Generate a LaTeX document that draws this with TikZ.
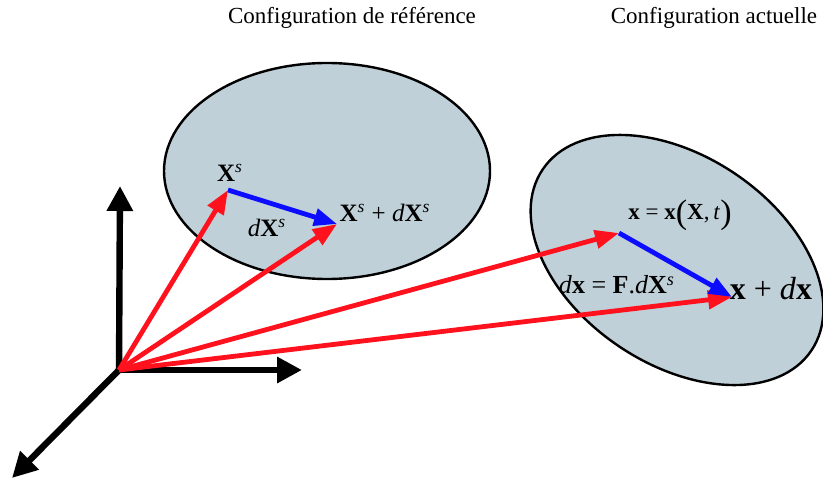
\documentclass[tikz,border=0pt]{standalone}
\usepackage{fontspec}
\setmainfont{Liberation Serif}
\usepackage{xcolor}
\definecolor{bodyfill}{RGB}{192,208,216}
\definecolor{vecred}{RGB}{255,18,30}
\definecolor{vecblue}{RGB}{12,12,255}
\usetikzlibrary{arrows.meta}
\usetikzlibrary{positioning}

\newcommand{\bX}{\textbf{X}\textsuperscript{\textit{s}}}
\newcommand{\dd}{\textit{d}}
\newcommand{\bigpar}[1]{\raisebox{-2pt}{\fontsize{17}{17}\selectfont #1}}

\tikzset{
  axis/.style={line width=3.2pt, -{Triangle[length=12.5pt,width=12.5pt]}},
  posvec/.style={line width=2.4pt, color=vecred, -{Triangle[length=12pt,width=9pt]}},
  dispvec/.style={line width=2.4pt, color=vecblue, -{Triangle[length=11.5pt,width=8.5pt]}},
  body/.style={fill=bodyfill, draw=black, line width=1.2pt},
  lbl/.style={inner sep=0pt, font=\fontsize{12.5}{14}\selectfont},
  title/.style={inner sep=0pt, font=\fontsize{11.5}{13}\selectfont},
}

\begin{document}
\begin{tikzpicture}[x=0.5pt, y=-0.5pt]
    \useasboundingbox (0,0) rectangle (823,481);

    % reference and current configurations
    \filldraw[body] (327,171) ellipse [x radius=163, y radius=108];
    \filldraw[body, rotate around={-34:(677,260)}] (677,260) ellipse [x radius=162, y radius=104];

    \node[title] (tref) at (352,18) {Configuration de référence};
    \node[title] (tcur) at (714,18) {Configuration actuelle};

    % frame
    \coordinate (O)  at (119,370);
    \coordinate (e1) at (302,370);
    \coordinate (e2) at (120,186);
    \coordinate (e3) at (12,478);
    \draw[axis] (O) -- (e1);
    \draw[axis] (O) -- (e2);
    \draw[axis] (O) -- (e3);

    % material points
    \coordinate (P)  at (228,190);
    \coordinate (Q)  at (337,224);
    \coordinate (p)  at (619,233);
    \coordinate (q)  at (732,297);

    \draw[posvec] (O) -- (P);
    \draw[posvec] (O) -- (Q);
    \draw[posvec] (O) -- (p);
    \draw[posvec] (O) -- (q);
    \draw[dispvec] (P) -- (Q);
    \draw[dispvec] (p) -- (q);

    \node[lbl] (lP)  at (230,173) {\bX};
    \node[lbl] (ldP) at (267,228) {\dd\bX};
    \node[lbl] (lQ)  at (385,213) {\bX\ + \dd\bX};
    \node[lbl, font=\fontsize{11.5}{13}\selectfont] (lp) at (680,215)
        {\textbf{x} = \textbf{x}\bigpar{(}\textbf{X},\,\textit{t}\bigpar{)}};
    \node[lbl, font=\fontsize{13}{14}\selectfont] (ldp) at (617,285)
        {\dd\textbf{x} = \textbf{F}.\dd\bX};
    \node[lbl, font=\fontsize{16}{18}\selectfont] (lq) at (771,289)
        {\textbf{x} + \dd\textbf{x}};

\end{tikzpicture}
\end{document}
